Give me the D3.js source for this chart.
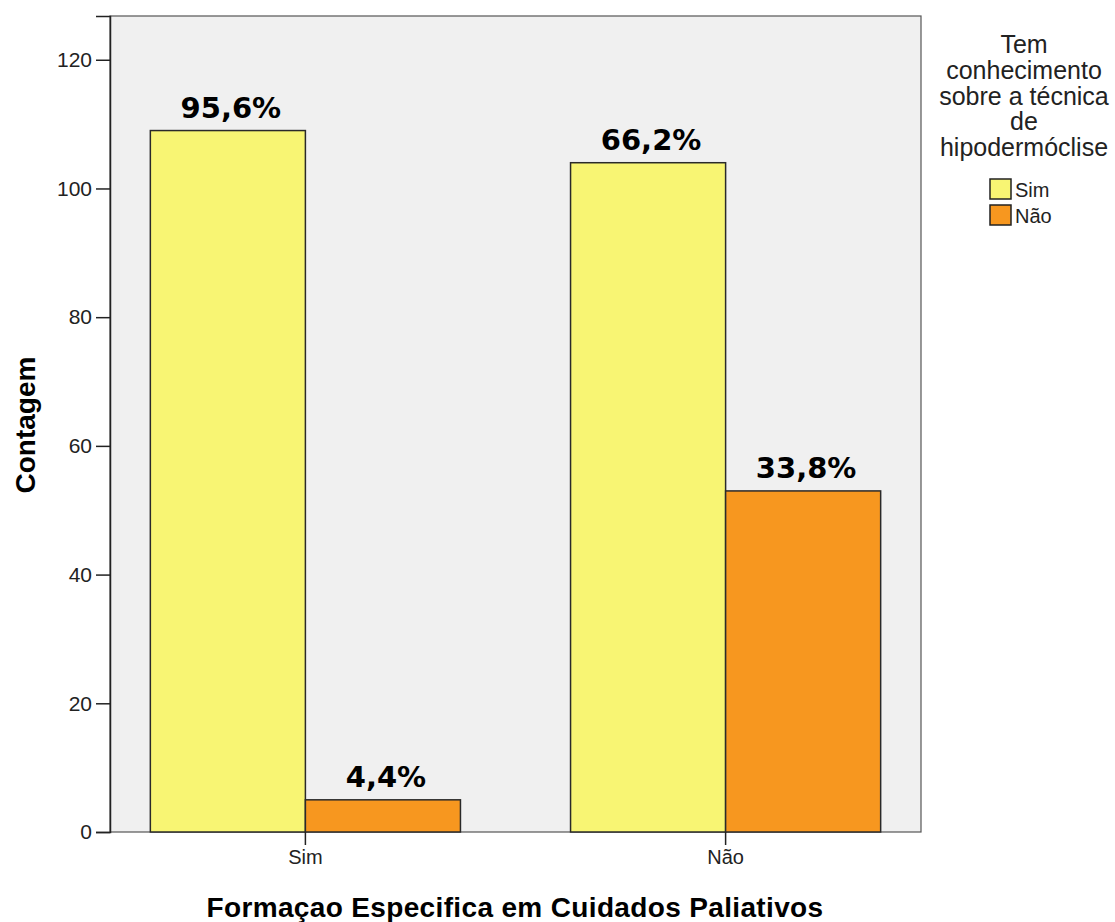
<!DOCTYPE html>
<html>
<head>
<meta charset="utf-8">
<script src="https://cdn.jsdelivr.net/npm/d3@7"></script>
<style>
  body { margin: 0; background: #fff; }
  text { font-family: "Liberation Sans", Arial, sans-serif; fill: #222; }
</style>
</head>
<body>
<svg id="chart" width="1115" height="922"></svg>
<script>
// Formação específica (x groups) vs. conhecimento da técnica (legend)
const groups = ["Sim", "Não"];
const knows = ["Sim", "Não"];
const counts = {
  "Sim": [109, 5],
  "Não": [104, 53]
};
const yTicks = [0, 20, 40, 60, 80, 100, 120];
const yMax = 126.8;
const colors = ["#f8f573", "#f7971f"];
const legendTitle = ["Tem", "conhecimento", "sobre a técnica", "de", "hipodermóclise"];

const svg = d3.select("#chart");
const plot = { left: 110, right: 921, top: 16, bottom: 832 };

const x0 = d3.scaleBand().domain(groups)
  .range([plot.left, plot.right]).paddingInner(0.262).paddingOuter(0.096);
const x1 = d3.scaleBand().domain(knows).range([0, x0.bandwidth()]);
const y = d3.scaleLinear().domain([0, yMax]).range([plot.bottom, plot.top]);
const color = d3.scaleOrdinal().domain(knows).range(colors);

// plot background
svg.append("rect")
  .attr("x", plot.left).attr("y", plot.top)
  .attr("width", plot.right - plot.left).attr("height", plot.bottom - plot.top)
  .attr("fill", "#f0f0f0").attr("stroke", "#555").attr("stroke-width", 1.2);

const rows = groups.flatMap(g => {
  const total = d3.sum(counts[g]);
  return knows.map((k, i) => ({ g, k, v: counts[g][i], pct: counts[g][i] / total * 100 }));
});

const fmt = p => d3.format(".1f")(p).replace(".", ",") + "%";

svg.append("g").selectAll("rect").data(rows).enter().append("rect")
  .attr("x", d => x0(d.g) + x1(d.k))
  .attr("y", d => y(d.v))
  .attr("width", x1.bandwidth())
  .attr("height", d => y(0) - y(d.v))
  .attr("fill", d => color(d.k))
  .attr("stroke", "#2a2a2a").attr("stroke-width", 1.5);

svg.append("g").selectAll("text").data(rows).enter().append("text")
  .attr("x", d => x0(d.g) + x1(d.k) + x1.bandwidth() / 2 + 3)
  .attr("y", d => y(d.v) - 13)
  .attr("text-anchor", "middle")
  .style("font-family", "'DejaVu Sans', Verdana, sans-serif")
  .style("font-weight", "bold").style("font-size", "29px").style("fill", "#000")
  .text(d => fmt(d.pct));

// y axis
const yAxis = svg.append("g")
  .attr("transform", `translate(${plot.left},0)`)
  .call(d3.axisLeft(y).tickValues(yTicks).tickSize(14).tickPadding(4));
yAxis.select(".domain").attr("stroke", "#222").attr("stroke-width", 1.5);
yAxis.selectAll(".tick line").attr("stroke", "#222").attr("stroke-width", 1.5);
yAxis.selectAll(".tick text").style("font-size", "21px").style("font-family", "'Liberation Sans', Arial, sans-serif").attr("fill", "#222");

// x axis
const xAxis = svg.append("g")
  .attr("transform", `translate(0,${plot.bottom})`)
  .call(d3.axisBottom(x0).tickSize(13).tickPadding(5));
xAxis.select(".domain").remove();
xAxis.selectAll(".tick line").attr("stroke", "#222").attr("stroke-width", 1.5);
xAxis.selectAll(".tick text").style("font-size", "20px").style("font-family", "'Liberation Sans', Arial, sans-serif").attr("fill", "#222");

// axis titles
svg.append("text")
  .attr("transform", "translate(35,425) rotate(-90)")
  .attr("text-anchor", "middle")
  .style("font-weight", "bold").style("font-size", "28px").style("fill", "#000")
  .text("Contagem");

svg.append("text")
  .attr("x", 515).attr("y", 917)
  .attr("text-anchor", "middle")
  .style("font-weight", "bold").style("font-size", "28px").style("letter-spacing", "0.35px").style("fill", "#000")
  .text("Formaçao Especifica em Cuidados Paliativos");

// legend
const legend = svg.append("g");
legend.selectAll("text.title").data(legendTitle).enter().append("text")
  .attr("class", "title")
  .attr("x", 1024).attr("y", (d, i) => 53 + i * 25.8)
  .attr("text-anchor", "middle")
  .style("font-size", "25px")
  .text(d => d);

const items = legend.selectAll("g.item").data(knows).enter().append("g")
  .attr("class", "item")
  .attr("transform", (d, i) => `translate(990,${179 + i * 26})`);
items.append("rect")
  .attr("width", 21).attr("height", 20)
  .attr("fill", d => color(d)).attr("stroke", "#222").attr("stroke-width", 1.5);
items.append("text")
  .attr("x", 25).attr("y", 18)
  .style("font-size", "20px")
  .text(d => d);
</script>
</body>
</html>
